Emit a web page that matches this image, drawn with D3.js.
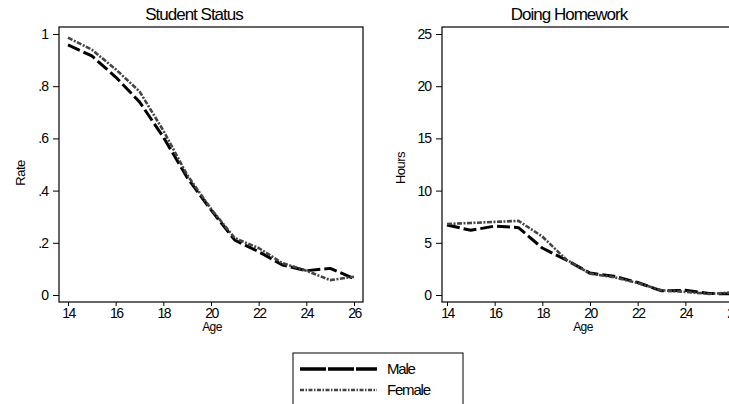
<!DOCTYPE html>
<html>
<head>
<meta charset="utf-8">
<script src="https://cdn.jsdelivr.net/npm/d3@7"></script>
<style>
  body { margin: 0; background: #fff; }
  text { font-family: "Liberation Sans", Arial, sans-serif; fill: #000; }
</style>
</head>
<body>
<script>
const width = 729, height = 404

// data
const ages = [14, 15, 16, 17, 18, 19, 20, 21, 22, 23, 24, 25, 26]
const rateMale   = [0.958, 0.916, 0.835, 0.74, 0.605, 0.45, 0.326, 0.21, 0.166, 0.115, 0.093, 0.102, 0.063]
const rateFemale = [0.986, 0.94, 0.865, 0.78, 0.63, 0.46, 0.33, 0.218, 0.18, 0.122, 0.093, 0.057, 0.07]
const hoursMale   = [6.7, 6.2, 6.6, 6.45, 4.5, 3.35, 2.1, 1.8, 1.2, 0.4, 0.45, 0.15, 0.1]
const hoursFemale = [6.8, 6.9, 7.0, 7.1, 5.6, 3.4, 2.05, 1.7, 1.15, 0.45, 0.3, 0.1, 0.25]
const ageTicks = [14, 16, 18, 20, 22, 24, 26]
const rateTicks = [0, 0.2, 0.4, 0.6, 0.8, 1]
const rateTickLabels = ['0', '.2', '.4', '.6', '.8', '1']
const hoursTicks = [0, 5, 10, 15, 20, 25]
const seriesNames = ['Male', 'Female']

const styles = {
  Male:   {stroke: '#000', width: 3, dash: '13,4'},
  Female: {stroke: '#444', width: 2.6, dash: '5,1.5,2,1.5'}
}

let svg = d3.select('body').append('svg')
  .attr('width', width)
  .attr('height', height)

function panel(opts) {
  let g = svg.append('g')
  let x = d3.scaleLinear().domain([14, 26]).range(opts.xRange)
  let y = d3.scaleLinear().domain(opts.yDomain).range([295, 34])

  g.append('rect')
    .attr('x', opts.box[0]).attr('y', 27)
    .attr('width', opts.box[1] - opts.box[0]).attr('height', 302 - 27)
    .attr('fill', 'none').attr('stroke', '#000').attr('stroke-width', 1.2)

  // y axis
  let yAxis = d3.axisLeft(y).tickValues(opts.yTicks).tickSize(6).tickPadding(5)
    .tickFormat((d, i) => opts.yLabels[i])
  let ya = g.append('g').attr('transform', `translate(${opts.box[0]},0)`).call(yAxis)
  ya.select('.domain').remove()
  ya.selectAll('text').style('font-size', '14px').style('letter-spacing', '-1px')
    .style('font-family', '"Liberation Sans", Arial, sans-serif')

  // x axis
  let xAxis = d3.axisBottom(x).tickValues(ageTicks).tickSize(4).tickPadding(2)
  let xa = g.append('g').attr('transform', 'translate(0,302)').call(xAxis)
  xa.select('.domain').remove()
  xa.selectAll('text').style('font-size', '14px').style('letter-spacing', '-1.5px')
    .style('font-family', '"Liberation Sans", Arial, sans-serif')

  g.append('text')
    .attr('x', opts.titleX).attr('y', 20)
    .attr('text-anchor', 'middle')
    .style('font-size', '17px').style('letter-spacing', '-1px')
    .text(opts.title)

  g.append('text')
    .attr('x', opts.ageX).attr('y', 331)
    .attr('text-anchor', 'middle')
    .style('font-size', '12px').style('letter-spacing', '-0.6px')
    .text('Age')

  g.append('text')
    .attr('transform', `translate(${opts.yLabelX},${opts.yLabelY}) rotate(-90)`)
    .attr('text-anchor', 'middle')
    .style('font-size', '13px').style('letter-spacing', '-0.5px')
    .text(opts.yTitle)

  let line = d3.line().x((d, i) => x(ages[i])).y(d => y(d))
  opts.series.forEach((vals, k) => {
    let s = styles[seriesNames[k]]
    g.append('path')
      .datum(vals)
      .attr('d', line)
      .attr('fill', 'none')
      .attr('stroke', s.stroke)
      .attr('stroke-width', s.width)
      .attr('stroke-dasharray', s.dash)
      .attr('stroke-linejoin', 'round')
  })
}

panel({
  title: 'Student Status', titleX: 194, ageX: 212,
  yTitle: 'Rate', yLabelX: 25, yLabelY: 173,
  box: [59, 363], xRange: [68, 354],
  yDomain: [0, 1], yTicks: rateTicks, yLabels: rateTickLabels,
  series: [rateMale, rateFemale]
})

panel({
  title: 'Doing Homework', titleX: 569, ageX: 583,
  yTitle: 'Hours', yLabelX: 405, yLabelY: 168,
  box: [442, 746], xRange: [447, 733],
  yDomain: [0, 25], yTicks: hoursTicks, yLabels: hoursTicks.map(String),
  series: [hoursMale, hoursFemale]
})

// legend
let legend = svg.append('g').attr('transform', 'translate(293,353)')
legend.append('rect')
  .attr('width', 170).attr('height', 60)
  .attr('fill', 'none').attr('stroke', '#000').attr('stroke-width', 1)
seriesNames.forEach((name, i) => {
  let s = styles[name]
  let yy = 16 + i * 21
  legend.append('line')
    .attr('x1', 7).attr('x2', 84).attr('y1', yy).attr('y2', yy)
    .attr('stroke', s.stroke)
    .attr('stroke-width', name === 'Male' ? 3.5 : 2.6)
    .attr('stroke-dasharray', name === 'Male' ? '26,2' : '4,1.5,1.5,1.5')
  legend.append('text')
    .attr('x', 94).attr('y', yy + 5)
    .style('font-size', '15px').style('letter-spacing', '-1.2px')
    .text(name)
})
</script>
</body>
</html>
